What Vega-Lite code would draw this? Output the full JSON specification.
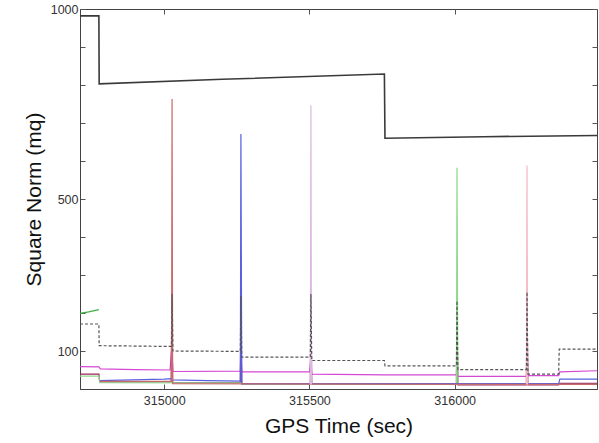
{
  "$schema": "https://vega.github.io/schema/vega-lite/v6.json",
  "autosize": {"type": "none"},
  "width": 517,
  "height": 380,
  "padding": {"left": 80, "top": 9, "right": 2, "bottom": 54},
  "background": "white",
  "config": {
    "view": {"stroke": "#444", "strokeWidth": 1},
    "font": "Liberation Sans",
    "axis": {"grid": false, "domainColor": "#444", "tickColor": "#555", "labelColor": "#333", "titleColor": "#111", "labelFont": "Liberation Sans", "titleFont": "Liberation Sans", "titleFontWeight": "normal"}
  },
  "datasets": {
    "solid": [
      {"s": "magenta", "t": 314710, "v": 59}, {"s": "magenta", "t": 314775, "v": 58}, {"s": "magenta", "t": 314780, "v": 53}, {"s": "magenta", "t": 314900, "v": 51}, {"s": "magenta", "t": 315020, "v": 50}, {"s": "magenta", "t": 315026, "v": 110}, {"s": "magenta", "t": 315030, "v": 46}, {"s": "magenta", "t": 315262, "v": 47}, {"s": "magenta", "t": 315264, "v": 90}, {"s": "magenta", "t": 315267, "v": 45}, {"s": "magenta", "t": 315500, "v": 45}, {"s": "magenta", "t": 315505, "v": 80}, {"s": "magenta", "t": 315508, "v": 39}, {"s": "magenta", "t": 315760, "v": 37}, {"s": "magenta", "t": 316006, "v": 37}, {"s": "magenta", "t": 316008, "v": 100}, {"s": "magenta", "t": 316011, "v": 33}, {"s": "magenta", "t": 316247, "v": 33}, {"s": "magenta", "t": 316249, "v": 130}, {"s": "magenta", "t": 316252, "v": 35}, {"s": "magenta", "t": 316358, "v": 35}, {"s": "magenta", "t": 316362, "v": 45}, {"s": "magenta", "t": 316490, "v": 48},
      {"s": "maroon", "t": 314710, "v": 39}, {"s": "maroon", "t": 314775, "v": 39}, {"s": "maroon", "t": 314778, "v": 19}, {"s": "maroon", "t": 315024, "v": 19}, {"s": "maroon", "t": 315026, "v": 230}, {"s": "maroon", "t": 315029, "v": 17}, {"s": "maroon", "t": 315262, "v": 17}, {"s": "maroon", "t": 315264, "v": 200}, {"s": "maroon", "t": 315267, "v": 13}, {"s": "maroon", "t": 315503, "v": 13}, {"s": "maroon", "t": 315505, "v": 220}, {"s": "maroon", "t": 315508, "v": 12}, {"s": "maroon", "t": 316006, "v": 12}, {"s": "maroon", "t": 316008, "v": 180}, {"s": "maroon", "t": 316011, "v": 11}, {"s": "maroon", "t": 316247, "v": 11}, {"s": "maroon", "t": 316249, "v": 240}, {"s": "maroon", "t": 316252, "v": 11}, {"s": "maroon", "t": 316358, "v": 11}, {"s": "maroon", "t": 316362, "v": 15}, {"s": "maroon", "t": 316490, "v": 15},
      {"s": "greenTop", "t": 314710, "v": 199}, {"s": "greenTop", "t": 314740, "v": 203}, {"s": "greenTop", "t": 314775, "v": 209},
      {"s": "green", "t": 314710, "v": 34}, {"s": "green", "t": 314775, "v": 34}, {"s": "green", "t": 314778, "v": 17}, {"s": "green", "t": 315264, "v": 16}, {"s": "green", "t": 315267, "v": 13}, {"s": "green", "t": 316006, "v": 13}, {"s": "green", "t": 316008, "v": 582}, {"s": "green", "t": 316011, "v": 12}, {"s": "green", "t": 316490, "v": 12},
      {"s": "blue", "t": 314778, "v": 22}, {"s": "blue", "t": 315000, "v": 26}, {"s": "blue", "t": 315024, "v": 27}, {"s": "blue", "t": 315027, "v": 24}, {"s": "blue", "t": 315150, "v": 22}, {"s": "blue", "t": 315262, "v": 21}, {"s": "blue", "t": 315264, "v": 671}, {"s": "blue", "t": 315267, "v": 14}, {"s": "blue", "t": 316358, "v": 14}, {"s": "blue", "t": 316362, "v": 26}, {"s": "blue", "t": 316490, "v": 26},
      {"s": "red", "t": 314778, "v": 20}, {"s": "red", "t": 315025, "v": 20}, {"s": "red", "t": 315027, "v": 763}, {"s": "red", "t": 315029, "v": 14}, {"s": "red", "t": 316490, "v": 12},
      {"s": "lavender", "t": 315503, "v": 12}, {"s": "lavender", "t": 315505, "v": 747}, {"s": "lavender", "t": 315507, "v": 12},
      {"s": "pink", "t": 316247, "v": 12}, {"s": "pink", "t": 316249, "v": 588}, {"s": "pink", "t": 316251, "v": 12}
    ],
    "black": [
      {"t": 314710, "v": 982}, {"t": 314775, "v": 982}, {"t": 314776, "v": 803}, {"t": 315200, "v": 815}, {"t": 315758, "v": 829}, {"t": 315760, "v": 660}, {"t": 316100, "v": 664}, {"t": 316490, "v": 667}
    ],
    "dashed": [
      {"t": 314710, "v": 171}, {"t": 314775, "v": 171}, {"t": 314776, "v": 114}, {"t": 315025, "v": 112}, {"t": 315027, "v": 250}, {"t": 315030, "v": 100}, {"t": 315262, "v": 99}, {"t": 315264, "v": 245}, {"t": 315267, "v": 84}, {"t": 315503, "v": 84}, {"t": 315505, "v": 250}, {"t": 315508, "v": 75}, {"t": 315758, "v": 75}, {"t": 315760, "v": 61}, {"t": 316006, "v": 61}, {"t": 316008, "v": 232}, {"t": 316011, "v": 51}, {"t": 316247, "v": 51}, {"t": 316249, "v": 255}, {"t": 316252, "v": 39}, {"t": 316358, "v": 39}, {"t": 316360, "v": 105}, {"t": 316490, "v": 105}
    ]
  },
  "layer": [
    {
      "data": {"name": "solid"},
      "mark": {"type": "line", "strokeWidth": 1.2, "clip": true},
      "encoding": {
        "x": {"field": "t", "type": "quantitative", "scale": {"domain": [314710, 316490], "nice": false, "zero": false},
          "axis": {"values": [315000, 315500, 316000], "format": "d", "tickSize": -5, "labelPadding": 10, "labelFontSize": 12.5, "title": "GPS Time (sec)", "titleFontSize": 21, "titlePadding": 9}},
        "y": {"field": "v", "type": "quantitative", "scale": {"domain": [0, 1000], "nice": false},
          "axis": {"values": [100, 200, 300, 400, 500, 600, 700, 800, 900, 1000], "format": "d", "labelExpr": "datum.value == 100 || datum.value == 500 || datum.value == 1000 ? datum.label : ''", "tickSize": -5, "labelPadding": 7, "labelFontSize": 12.5, "title": "Square Norm (mq)", "titleFontSize": 21, "titlePadding": 6}},
        "color": {"field": "s", "type": "nominal", "legend": null,
          "scale": {"domain": ["green", "red", "lavender", "pink", "blue", "maroon", "magenta", "greenTop"],
                    "range": ["#8ed88e", "#c86a6a", "#dcb8e0", "#f4b8c4", "#5860e0", "#a02060", "#d448d4", "#3cb040"]}},
        "order": {"field": "t", "type": "quantitative"}
      }
    },
    {
      "data": {"name": "dashed"},
      "mark": {"type": "line", "strokeWidth": 1.2, "strokeDash": [3, 2], "color": "#555", "clip": true},
      "encoding": {
        "x": {"field": "t", "type": "quantitative", "axis": {"orient": "top", "values": [315000, 315500, 316000], "labels": false, "title": null, "tickSize": -5, "domain": false}},
        "y": {"field": "v", "type": "quantitative", "axis": {"orient": "right", "values": [100, 200, 300, 400, 500, 600, 700, 800, 900, 1000], "labels": false, "title": null, "tickSize": -5, "domain": false}}
      }
    },
    {
      "data": {"name": "black"},
      "mark": {"type": "line", "strokeWidth": 1.6, "color": "#3a3a3a", "clip": true},
      "encoding": {
        "x": {"field": "t", "type": "quantitative", "axis": null},
        "y": {"field": "v", "type": "quantitative", "axis": null}
      }
    }
  ],
  "resolve": {"axis": {"x": "independent", "y": "independent"}}
}
